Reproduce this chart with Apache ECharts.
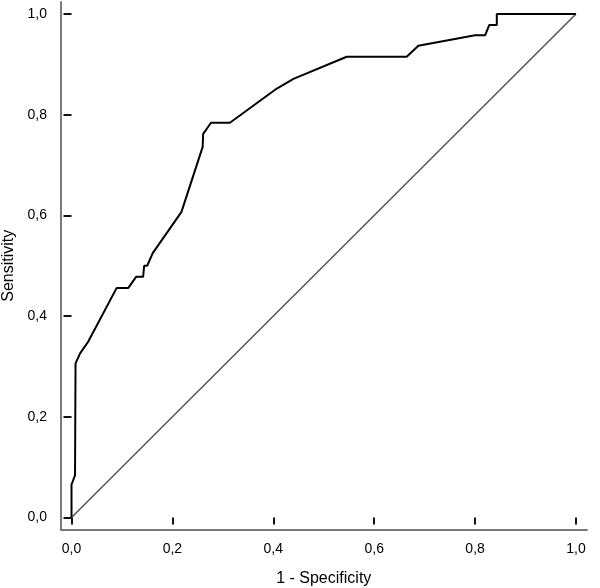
<!DOCTYPE html>
<html>
<head>
<meta charset="utf-8">
<script src="https://cdn.jsdelivr.net/npm/echarts@6/dist/echarts.min.js"></script>
<style>html,body{margin:0;padding:0;background:#fff}#c{width:600px;height:588px}</style>
</head>
<body>
<div id="c"></div>
<script>
// ROC curve points: 1 - Specificity (x) and Sensitivity (y)
const rocX = [0, 0, 0.007, 0.008, 0.017, 0.033, 0.0896, 0.1126, 0.128, 0.142, 0.144, 0.150, 0.161, 0.218, 0.260, 0.261, 0.2765, 0.314, 0.407, 0.440, 0.5455, 0.6644, 0.6875, 0.800, 0.820, 0.828, 0.843, 0.843, 1.0];
const rocY = [0, 0.065, 0.084, 0.306, 0.326, 0.349, 0.456, 0.456, 0.478, 0.478, 0.500, 0.500, 0.525, 0.607, 0.736, 0.762, 0.784, 0.784, 0.852, 0.871, 0.915, 0.915, 0.937, 0.958, 0.958, 0.978, 0.978, 1.0, 1.0];
const refX = [0, 1];
const refY = [0, 1];
const axisMin = 0, axisMax = 1, axisStep = 0.2;
const xTitle = '1 - Specificity';
const yTitle = 'Sensitivity';

const font = 'Liberation Sans, Arial, sans-serif';
const fmt = v => v.toFixed(1).replace('.', ',');
const chart = echarts.init(document.getElementById('c'));
chart.setOption({
  animation: false,
  backgroundColor: '#fff',
  grid: [
    // frame grid: only draws the extended axis lines
    { left: 61, right: 13, top: 2, bottom: 58, outerBoundsMode: 'none' },
    // data grid: exact 0..1 plotting range
    { left: 71.5, right: 24, top: 14, bottom: 70.5, outerBoundsMode: 'none' }
  ],
  xAxis: [
    {
      gridIndex: 0, type: 'value', min: 0, max: 1,
      axisLine: { lineStyle: { color: '#7a7a7a', width: 2 } },
      axisTick: { show: false }, axisLabel: { show: false }, splitLine: { show: false }
    },
    {
      gridIndex: 1, type: 'value', min: axisMin, max: axisMax, interval: axisStep, offset: 12.5,
      name: xTitle, nameLocation: 'middle', nameGap: 41,
      nameTextStyle: { fontFamily: font, fontSize: 16, color: '#000' },
      axisLine: { show: false },
      axisTick: { show: true, length: 7, lineStyle: { color: '#111', width: 2 } },
      axisLabel: { formatter: fmt, margin: 12, fontFamily: font, fontSize: 14, color: '#000' },
      splitLine: { show: false }
    }
  ],
  yAxis: [
    {
      gridIndex: 0, type: 'value', min: 0, max: 1,
      axisLine: { show: true, lineStyle: { color: '#7a7a7a', width: 2 } },
      axisTick: { show: false }, axisLabel: { show: false }, splitLine: { show: false }
    },
    {
      gridIndex: 1, type: 'value', min: axisMin, max: axisMax, interval: axisStep, offset: 10.5,
      name: yTitle, nameLocation: 'middle', nameGap: 43,
      nameTextStyle: { fontFamily: font, fontSize: 16, color: '#000' },
      axisLine: { show: false },
      axisTick: { show: true, length: 8, lineStyle: { color: '#111', width: 2 } },
      axisLabel: { formatter: fmt, margin: 14, fontFamily: font, fontSize: 14, color: '#000' },
      splitLine: { show: false }
    }
  ],
  series: [
    {
      type: 'line', xAxisIndex: 1, yAxisIndex: 1, data: refX.map((x, i) => [x, refY[i]]),
      showSymbol: false, silent: true,
      lineStyle: { color: '#555', width: 1.5 }
    },
    {
      type: 'line', xAxisIndex: 1, yAxisIndex: 1, data: rocX.map((x, i) => [x, rocY[i]]),
      showSymbol: false, silent: true,
      lineStyle: { color: '#000', width: 2 }
    }
  ]
});
</script>
</body>
</html>
